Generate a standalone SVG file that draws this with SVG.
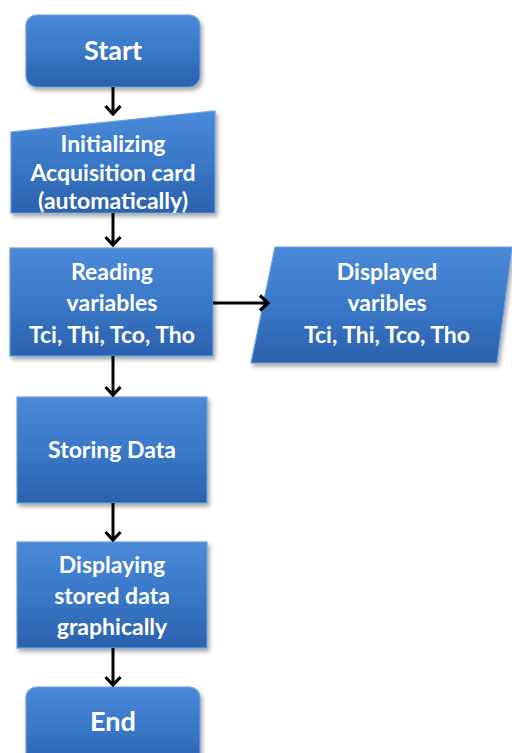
<svg xmlns="http://www.w3.org/2000/svg" width="512" height="753" viewBox="0 0 512 753">
<defs>
<linearGradient id="g" x1="0" y1="0" x2="0" y2="1">
<stop offset="0" stop-color="#4a8ad8"/>
<stop offset="0.5" stop-color="#3a78c8"/>
<stop offset="1" stop-color="#2b61ad"/>
</linearGradient>
<filter id="sh" x="-10%" y="-10%" width="130%" height="130%">
<feDropShadow dx="2" dy="3" stdDeviation="2" flood-color="#000" flood-opacity="0.35"/>
</filter>
<marker id="ah" viewBox="0 0 18 18" refX="16" refY="9" markerWidth="18" markerHeight="18" markerUnits="userSpaceOnUse" orient="auto">
<path d="M8,1.5 L16,9 L8,16.5" fill="none" stroke="#000" stroke-width="3.2" stroke-linejoin="miter"/>
</marker>
</defs>
<style>
.box{fill:url(#g);stroke:#6aa0e0;stroke-width:1.2;filter:url(#sh)}
.t{font-family:Lato,"Open Sans","Liberation Sans",sans-serif;font-weight:bold;fill:#fff;text-anchor:middle;font-size:23px}
.big{font-size:27px}
.c{stroke:#000;stroke-width:3;fill:none;marker-end:url(#ah)}
</style>
<g id="start">
<rect class="box" x="26" y="15" width="174" height="72" rx="11"/>
<text class="t big" x="113" y="60">Start</text>
</g>
<g id="init">
<path class="box" d="M11,132 L215,111 L215,213 L11,213 Z"/>
<text class="t" x="113" y="152">Initializing</text>
<text class="t" x="113" y="181">Acquisition card</text>
<text class="t" x="113" y="209">(automatically)</text>
</g>
<g id="reading">
<rect class="box" x="10" y="248" width="203" height="108"/>
<text class="t" x="112" y="280">Reading</text>
<text class="t" x="112" y="311">variables</text>
<text class="t" x="112" y="343">Tci, Thi, Tco, Tho</text>
</g>
<g id="displayed">
<path class="box" d="M275,247 L512,247 L497,363 L251,363 Z"/>
<text class="t" x="387" y="280">Displayed</text>
<text class="t" x="387" y="311">varibles</text>
<text class="t" x="387" y="343">Tci, Thi, Tco, Tho</text>
</g>
<g id="storing">
<rect class="box" x="17" y="397" width="190" height="106"/>
<text class="t" x="112" y="458">Storing Data</text>
</g>
<g id="displaying">
<rect class="box" x="17" y="542" width="190" height="106"/>
<text class="t" x="112" y="573">Displaying</text>
<text class="t" x="112" y="604">stored data</text>
<text class="t" x="112" y="635">graphically</text>
</g>
<g id="end">
<rect class="box" x="26" y="687" width="174" height="80" rx="11"/>
<text class="t big" x="113" y="731">End</text>
</g>
<g id="connectors">
<line class="c" x1="113" y1="87" x2="113" y2="114"/>
<line class="c" x1="113" y1="213" x2="113" y2="245"/>
<line class="c" x1="213" y1="303" x2="268" y2="303"/>
<line class="c" x1="113" y1="356" x2="113" y2="395"/>
<line class="c" x1="113" y1="503" x2="113" y2="540"/>
<line class="c" x1="113" y1="648" x2="113" y2="685"/>
</g>
</svg>
